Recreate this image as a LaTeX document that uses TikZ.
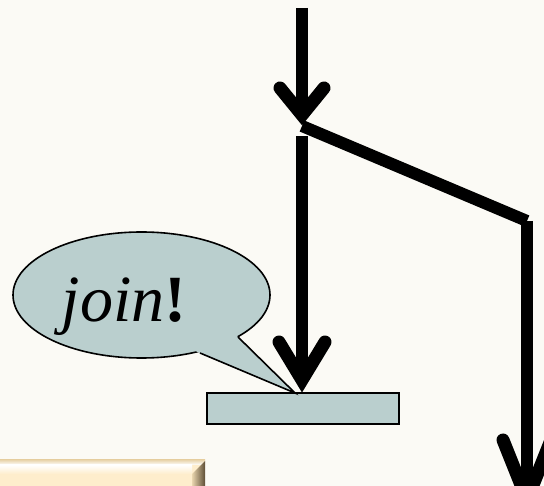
\documentclass[tikz,border=0pt]{standalone}
\usepackage{fontspec}
\setmainfont{Liberation Serif}
\usetikzlibrary{calc,shapes.geometric}
\definecolor{bg}{HTML}{FBFAF5}
\definecolor{teal}{HTML}{BACFCE}
\definecolor{cream}{HTML}{FEEDCC}
\definecolor{creamedge}{HTML}{E9D5AE}
\definecolor{bevdark}{HTML}{5E4E36}
\begin{document}
\begin{tikzpicture}[x=1pt,y=-1pt,
  shaft/.style={line width=12pt, line cap=butt},
  wing/.style={line width=13pt, line cap=round, line join=miter},
  barbox/.style={draw=black, line width=2.2pt, fill=teal},
  bubble/.style={draw=black, line width=1.6pt, fill=teal}]
\useasboundingbox[fill=bg] (0,0) rectangle (544,486);
% key points
\coordinate (start) at (302,8);
\coordinate (fork) at (302,115);
\coordinate (forkpt) at (302,125);
\coordinate (mid) at (302,136);
\coordinate (jointip) at (302,380);
\coordinate (corner) at (527,221);
\coordinate (rtop) at (527,221);
\coordinate (rtip) at (527,500);
% join bar
\node[barbox, minimum width=192pt, minimum height=31pt, inner sep=0pt, anchor=north west] (bar) at (206,392) {};
% top arrow
\draw[shaft] (start) -- ($(fork)+(0,-4)$);
\draw[wing] ($(fork)+(-22,-27)$) -- (fork) -- ($(fork)+(22,-27)$);
% diagonal branch
\draw[shaft] ($(forkpt)+(0,1)$) -- (corner);
% right arrow
\draw[shaft] (rtop) -- ($(rtip)+(0,-6)$);
\draw[wing] ($(rtip)+(-24,-60)$) -- (rtip) -- ($(rtip)+(24,-60)$);
% middle arrow to the bar
\draw[shaft] (mid) -- ($(jointip)+(0,-6)$);
\draw[wing] ($(jointip)+(-23,-38)$) -- (jointip) -- ($(jointip)+(23,-38)$);
% callout
\coordinate (ptip) at (295,393);
\coordinate (pb1) at (238,337);
\coordinate (pb2) at (200,353);
\node[bubble, ellipse, minimum width=257pt, minimum height=126pt, inner sep=0pt] (callout) at (141.5,295) {};
\fill[teal] (ptip) -- ($(ptip)!1.3!(pb1)$) -- ($(ptip)!1.3!(pb2)$) -- cycle;
\draw[line width=1.6pt, line join=miter] (pb1) -- (ptip) -- (pb2);
\node[anchor=base, inner sep=0pt, font=\fontsize{66}{66}\selectfont] (lbl) at (124,322) {\textit{join}\textbf{!}};
% bottom-left button
\fill[cream] (0,460) rectangle (205,486);
\shade[top color=creamedge, bottom color=white] (0,460) rectangle (205,465);
\shade[top color=white, bottom color=cream] (0,465) rectangle (192,474);
\shade[left color=creamedge, right color=bevdark] (192,474) -- (205,461) -- (205,486) -- (192,486) -- cycle;
\end{tikzpicture}
\end{document}
